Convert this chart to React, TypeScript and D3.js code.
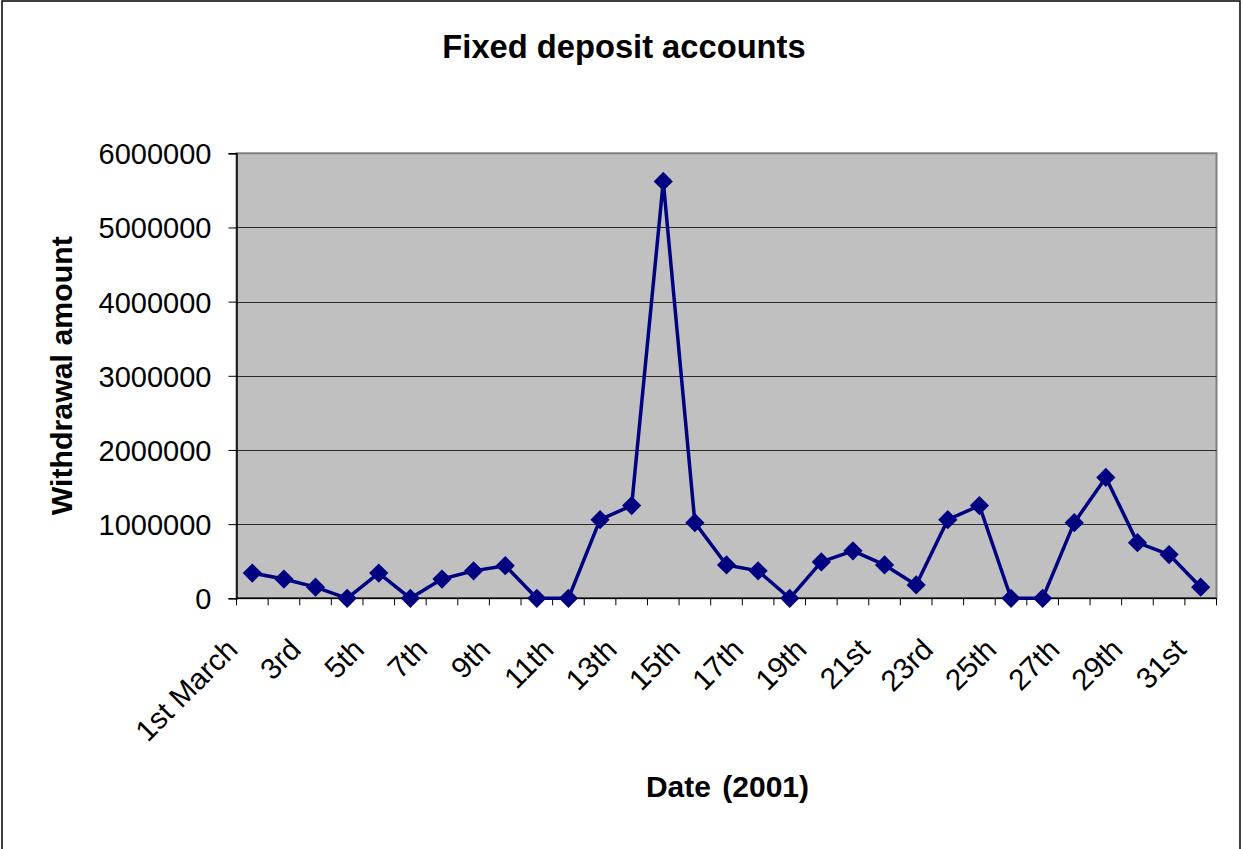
import React, { useEffect, useRef } from 'react';
import * as d3 from 'd3';

// days of March 2001 (only every other one gets a label on the axis)
const days = [
  '1st March', '2nd', '3rd', '4th', '5th', '6th', '7th', '8th', '9th', '10th',
  '11th', '12th', '13th', '14th', '15th', '16th', '17th', '18th', '19th', '20th',
  '21st', '22nd', '23rd', '24th', '25th', '26th', '27th', '28th', '29th', '30th', '31st',
];

// withdrawal amount per day
const withdrawals = [
  340000, 260000, 150000, 0, 340000, 0, 260000, 370000, 440000, 0,
  0, 1060000, 1250000, 5620000, 1020000, 450000, 370000, 0, 490000, 640000,
  450000, 180000, 1060000, 1250000, 0, 0, 1020000, 1630000, 750000, 590000, 150000,
];

const yTicks = [0, 1000000, 2000000, 3000000, 4000000, 5000000, 6000000];

const title = 'Fixed deposit accounts';
const xTitle = 'Date (2001)';
const yTitle = 'Withdrawal amount';

const W = 1243;
const H = 849;
const plot = { left: 236.5, right: 1216.5, top: 153.3, bottom: 598.3 };
const font = 'Arial, "Liberation Sans", Helvetica, sans-serif';

const FixedDepositChart = () => {
  const svgRef = useRef<SVGSVGElement | null>(null);

  useEffect(() => {
    const svg = d3.select(svgRef.current);
    svg.selectAll('*').remove();

    const x = d3.scaleBand<string>()
      .domain(days)
      .range([plot.left, plot.right])
      .padding(0);
    const cx = (d: string) => (x(d) as number) + x.bandwidth() / 2;

    const y = d3.scaleLinear()
      .domain([0, 6000000])
      .range([plot.bottom, plot.top]);

    // outer chart border
    svg.append('rect')
      .attr('x', 2).attr('y', 1)
      .attr('width', 1238).attr('height', H + 10)
      .attr('fill', '#fff')
      .attr('stroke', '#000')
      .attr('stroke-width', 1.5);

    // plot area
    svg.append('rect')
      .attr('x', plot.left).attr('y', plot.top)
      .attr('width', plot.right - plot.left)
      .attr('height', plot.bottom - plot.top)
      .attr('fill', '#c0c0c0')
      .attr('stroke', '#808080')
      .attr('stroke-width', 2);

    // gridlines
    svg.append('g')
      .selectAll('line')
      .data(yTicks.filter(t => t > 0 && t < 6000000))
      .enter()
      .append('line')
      .attr('x1', plot.left).attr('x2', plot.right)
      .attr('y1', d => Math.round(y(d)) + 0.5)
      .attr('y2', d => Math.round(y(d)) + 0.5)
      .attr('stroke', '#2a2a2a')
      .attr('stroke-width', 1);

    // y axis
    const yAxis = svg.append('g')
      .attr('transform', `translate(${plot.left},0)`)
      .call(d3.axisLeft(y).tickValues(yTicks).tickSize(8).tickPadding(17).tickFormat(d3.format('d')));
    yAxis.select('.domain').attr('stroke', '#000').attr('stroke-width', 1.5);
    yAxis.selectAll('.tick line').attr('stroke', '#000');
    yAxis.selectAll('.tick text')
      .attr('font-family', font)
      .attr('font-size', 29)
      .attr('fill', '#000')
      .attr('dy', '0.36em');

    // x axis: tick marks sit between categories
    const xg = svg.append('g');
    xg.append('line')
      .attr('x1', plot.left).attr('x2', plot.right)
      .attr('y1', plot.bottom).attr('y2', plot.bottom)
      .attr('stroke', '#000')
      .attr('stroke-width', 1.5);
    xg.selectAll('.xtick')
      .data(days.concat(['end']))
      .enter()
      .append('line')
      .attr('class', 'xtick')
      .attr('x1', (d, i) => plot.left + i * x.bandwidth())
      .attr('x2', (d, i) => plot.left + i * x.bandwidth())
      .attr('y1', plot.bottom)
      .attr('y2', plot.bottom + 7)
      .attr('stroke', '#000')
      .attr('stroke-width', 1);

    xg.selectAll('.xlabel')
      .data(days.filter((d, i) => i % 2 === 0))
      .enter()
      .append('text')
      .attr('class', 'xlabel')
      .attr('transform', d => `translate(${cx(d) - 13},${plot.bottom + 53}) rotate(-45)`)
      .attr('text-anchor', 'end')
      .attr('font-family', font)
      .attr('font-size', 29.5)
      .attr('fill', '#000')
      .text(d => d);

    // series line
    const line = d3.line<number>()
      .x((d, i) => cx(days[i]))
      .y(d => y(d));

    svg.append('path')
      .datum(withdrawals)
      .attr('d', line)
      .attr('fill', 'none')
      .attr('stroke', '#000080')
      .attr('stroke-width', 3.5)
      .attr('stroke-linejoin', 'round');

    // diamond markers
    const diamond = d3.symbol().type(d3.symbolSquare).size(185);
    svg.append('g')
      .selectAll('path')
      .data(withdrawals)
      .enter()
      .append('path')
      .attr('d', diamond)
      .attr('transform', (d, i) => `translate(${cx(days[i])},${y(d)}) rotate(45)`)
      .attr('fill', '#000080');

    // titles
    svg.append('text')
      .attr('x', 624).attr('y', 58)
      .attr('text-anchor', 'middle')
      .attr('font-family', font)
      .attr('font-weight', 'bold')
      .attr('font-size', 32.7)
      .text(title);

    svg.append('text')
      .attr('x', (plot.left + plot.right) / 2 + 1).attr('y', 797)
      .attr('text-anchor', 'middle')
      .attr('font-family', font)
      .attr('font-weight', 'bold')
      .attr('font-size', 30)
      .attr('word-spacing', 3)
      .text(xTitle);

    svg.append('text')
      .attr('transform', `translate(72,${(plot.top + plot.bottom) / 2}) rotate(-90)`)
      .attr('text-anchor', 'middle')
      .attr('font-family', font)
      .attr('font-weight', 'bold')
      .attr('font-size', 30.3)
      .text(yTitle);
  }, []);

  return (
    <svg
      ref={svgRef}
      width={W}
      height={H}
      style={{ position: 'absolute', left: 0, top: 0, display: 'block', background: '#fff' }}
    />
  );
};

export default function App() {
  return <FixedDepositChart />;
}
